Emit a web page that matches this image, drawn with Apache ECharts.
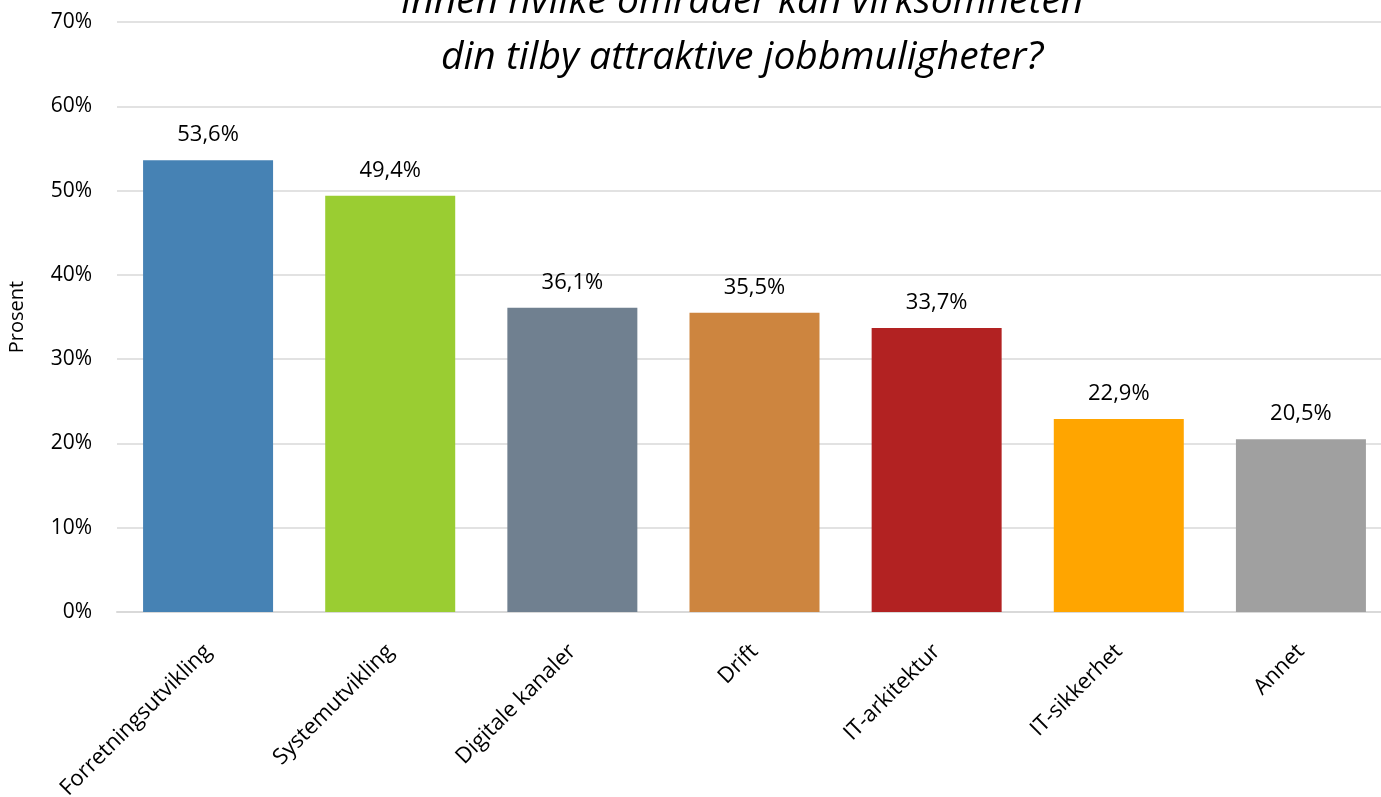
<!DOCTYPE html>
<html>
<head>
<meta charset="utf-8">
<script src="https://cdn.jsdelivr.net/npm/echarts@6/dist/echarts.min.js"></script>
<style>html,body{margin:0;padding:0;background:#fff}#c{width:1381px;height:797px}</style>
</head>
<body>
<div id="c"></div>
<script>
const titleLines = ['Innen hvilke områder kan virksomheten', 'din tilby attraktive jobbmuligheter?'];
const yAxisName = 'Prosent';
const categories = ['Forretningsutvikling', 'Systemutvikling', 'Digitale kanaler', 'Drift', 'IT-arkitektur', 'IT-sikkerhet', 'Annet'];
const values = [53.6, 49.4, 36.1, 35.5, 33.7, 22.9, 20.5];
const colors = ['#4682B4', '#9ACD32', '#708090', '#CD853F', '#B22222', '#FFA500', '#A0A0A0'];
const yTicks = [0, 10, 20, 30, 40, 50, 60, 70];

const FONT = '"Open Sans", "Noto Sans", sans-serif';
const chart = echarts.init(document.getElementById('c'));
chart.setOption({
  animation: false,
  backgroundColor: '#fff',
  graphic: [{
    type: 'text', x: 742, y: 30, z: 10,
    style: {
      text: titleLines.join('\n'), align: 'center', verticalAlign: 'middle',
      fontFamily: FONT, fontStyle: 'italic', fontSize: 39, lineHeight: 56, fill: '#000'
    }
  }],
  grid: { left: 117, right: -11, top: 22, bottom: 185, outerBoundsMode: 'none', containLabel: false },
  xAxis: {
    type: 'category', data: categories,
    axisLine: { lineStyle: { color: '#d9d9d9', width: 2 } },
    axisTick: { show: false },
    axisLabel: { rotate: 45, margin: 36, fontSize: 22, fontFamily: FONT, color: '#000', interval: 0 }
  },
  yAxis: {
    type: 'value', min: 0, max: 70, interval: 10,
    name: yAxisName, nameLocation: 'middle', nameGap: 90,
    nameTextStyle: { fontSize: 20, fontFamily: FONT, color: '#000' },
    axisLine: { show: false }, axisTick: { show: false },
    axisLabel: { margin: 25, fontSize: 21, fontFamily: FONT, color: '#000',
      formatter: v => yTicks.includes(v) ? v + '%' : '' },
    splitLine: { lineStyle: { color: '#d9d9d9', width: 1.5 } }
  },
  series: [{
    type: 'bar', barWidth: 130,
    data: values.map((v, i) => ({ value: v, itemStyle: { color: colors[i] } })),
    label: { show: true, position: 'top', distance: 14, fontSize: 22, fontFamily: FONT, color: '#000',
      formatter: p => p.value.toFixed(1).replace('.', ',') + '%' }
  }]
});
</script>
</body>
</html>
